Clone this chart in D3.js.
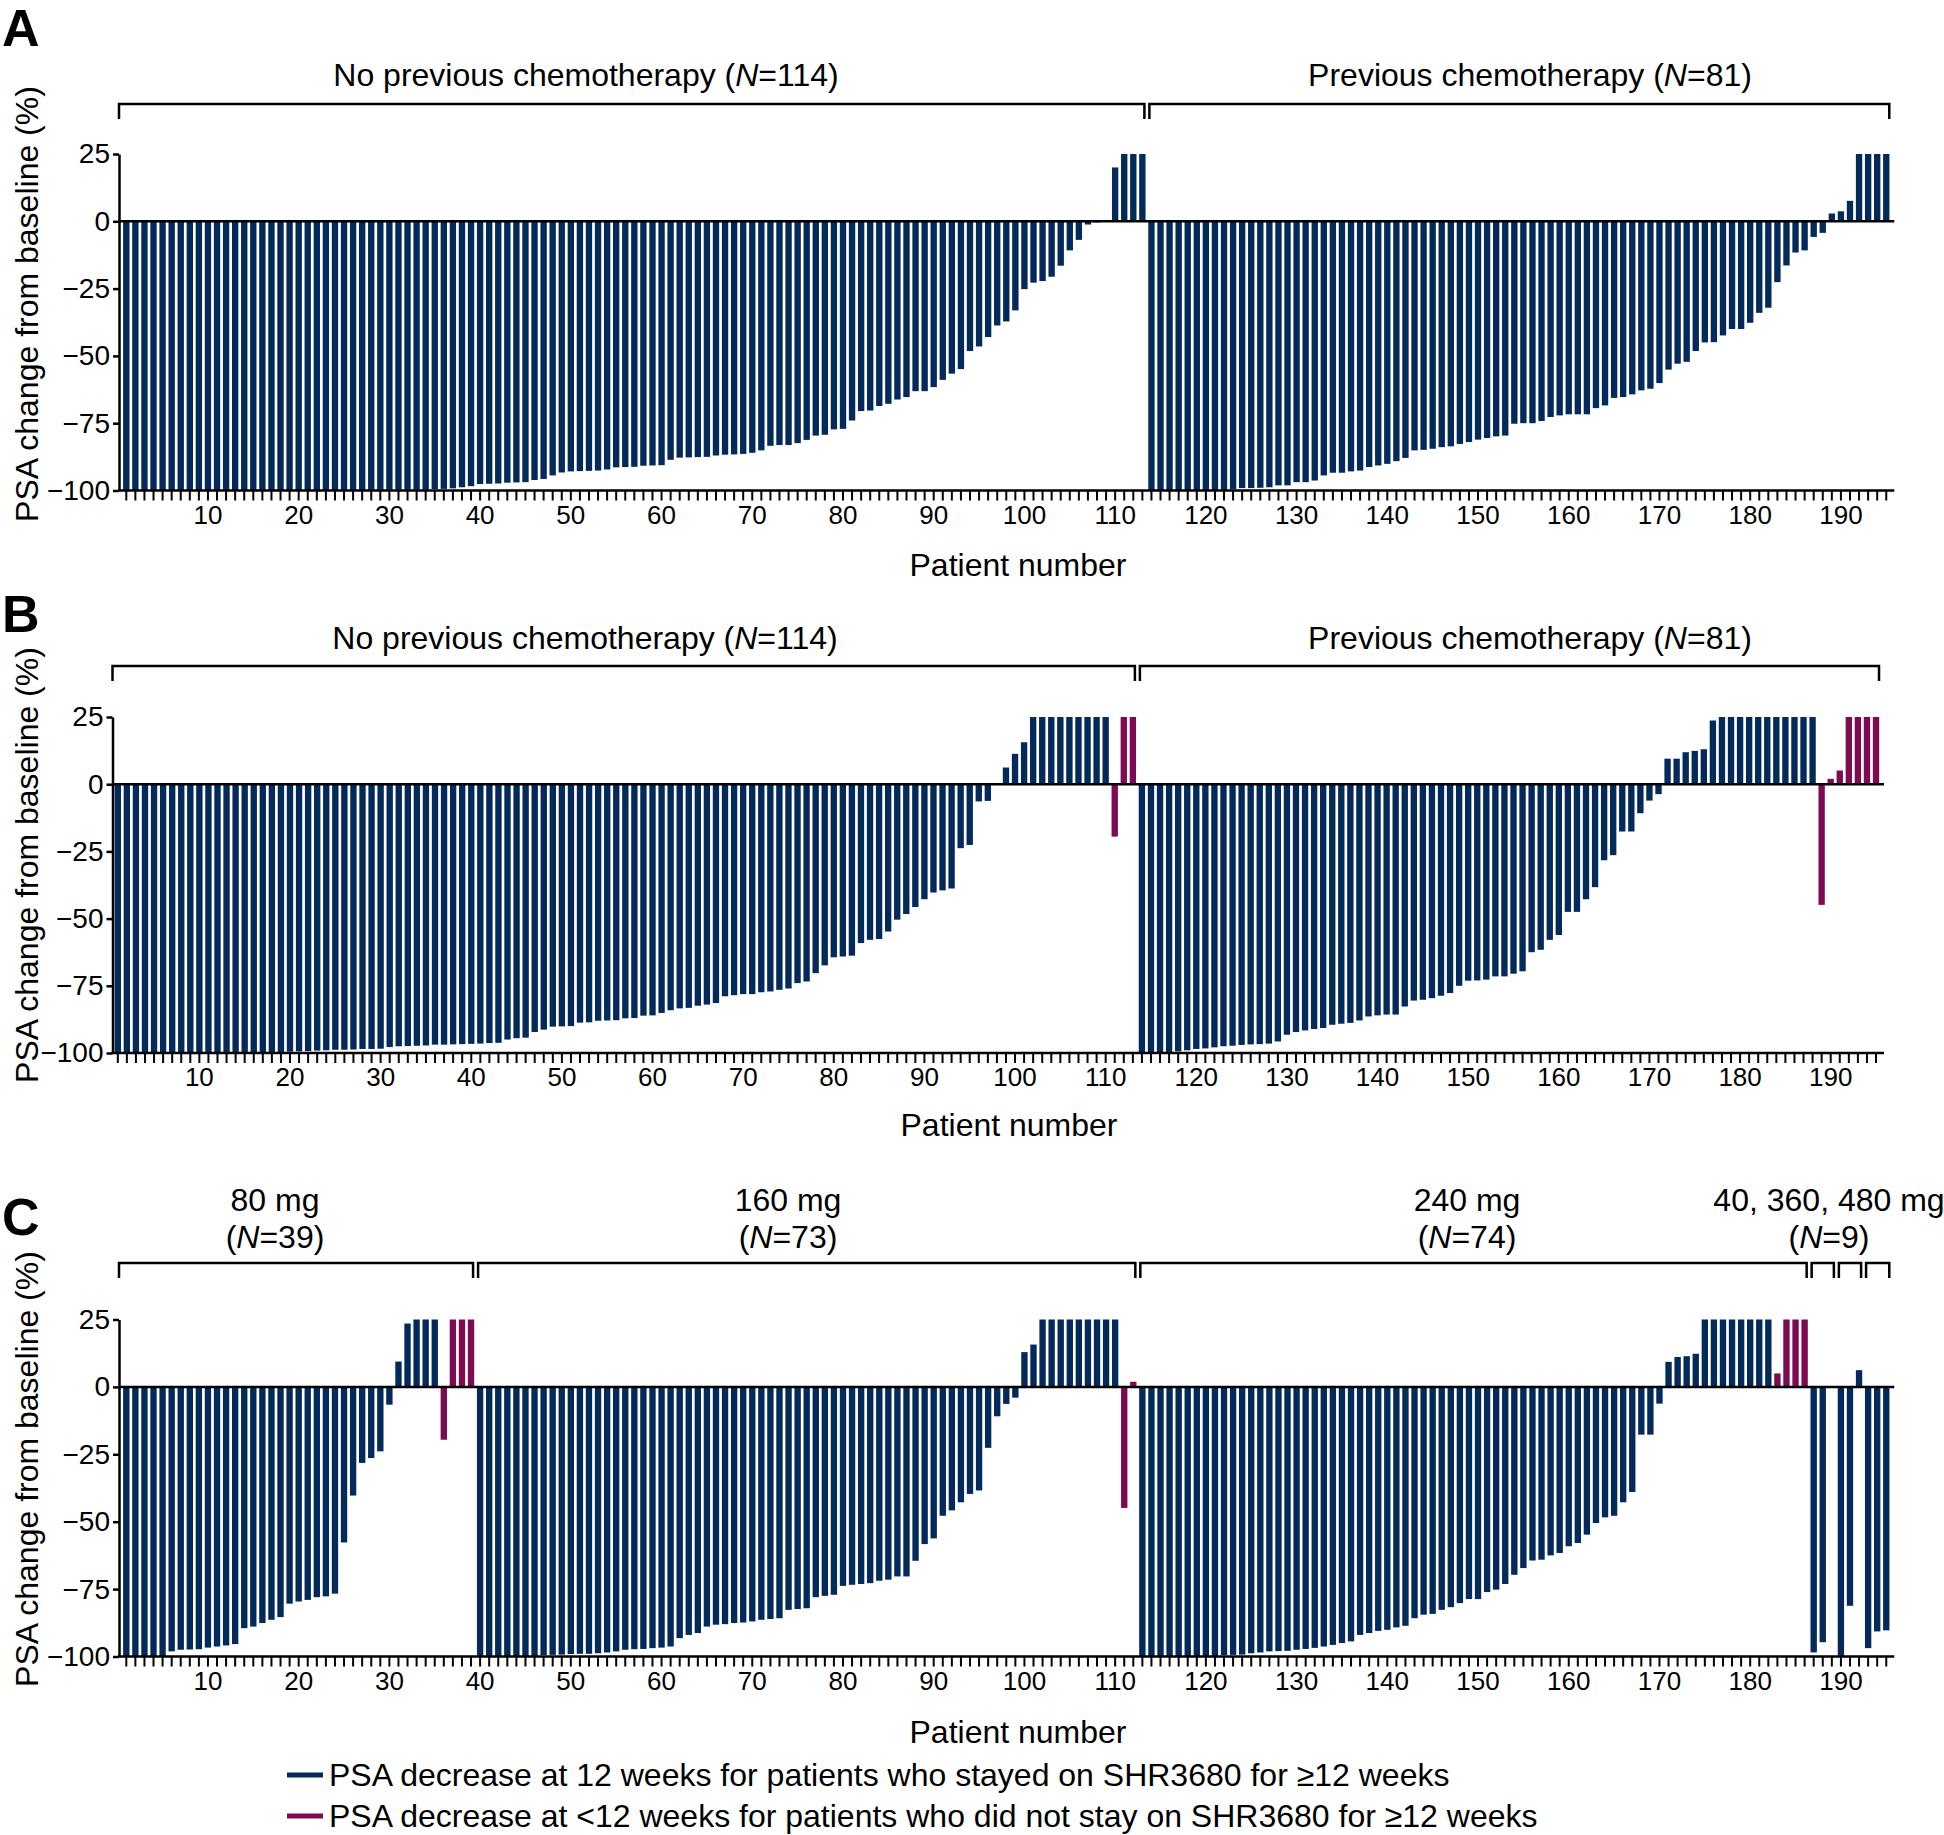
<!DOCTYPE html>
<html><head><meta charset="utf-8">
<script src="https://cdn.jsdelivr.net/npm/d3@7"></script>
<style>
body{margin:0;background:#fff;}
svg{display:block;font-family:"Liberation Sans",Arial,Helvetica,sans-serif;}
</style></head><body>
<svg id="chart" width="1944" height="1835"></svg>
<script>
// ---------- DATA ----------
const patients = d3.range(1, 196);
const xTickLabels = [10,20,30,40,50,60,70,80,90,100,110,120,130,140,150,160,170,180,190];
const yTicks = [25, 0, -25, -50, -75, -100];

const valuesA = [
-100,-100,-100,-100,-100,-100,-100,-100,-100,-100,
-100,-100,-100,-100,-100,-100,-100,-100,-100,-100,
-100,-100,-100,-100,-100,-100,-100,-99.7,-99.7,-99.7,
-99.7,-99.7,-99.7,-99.7,-99.5,-99.4,-99.2,-98.8,-98.4,-97.6,
-97.5,-97.4,-97.1,-97.0,-96.9,-96.1,-95.7,-94.4,-93.3,-92.9,
-92.8,-92.7,-92.6,-92.2,-91.4,-91.3,-91.2,-90.8,-90.7,-90.6,
-88.6,-87.8,-87.7,-87.6,-87.5,-87.0,-86.7,-86.6,-86.4,-86.0,
-85.1,-83.4,-83.1,-83.1,-82.4,-81.2,-79.6,-79.3,-77.3,-77.1,
-74.0,-70.5,-70.3,-68.6,-67.8,-66.2,-65.3,-63.1,-63.1,-61.6,
-58.9,-56.6,-54.9,-48.2,-46.5,-43.0,-38.7,-37.2,-33.1,-25.2,
-22.8,-22.2,-20.6,-16.5,-10.8,-6.9,-1.2,-0.4,0.5,20,
25,25,25,-100,-100,-100,-100,-100,-100,-100,
-100,-99.8,-99.5,-99.1,-99.1,-99.0,-98.8,-98.1,-98.1,-96.9,
-96.9,-96.3,-94.4,-93.4,-93.4,-92.9,-92.6,-91.3,-90.7,-90.1,
-89.1,-87.9,-85.1,-84.9,-84.5,-83.9,-83.6,-82.7,-82.0,-81.1,
-80.5,-79.9,-79.6,-75.2,-75.0,-75.0,-74.2,-72.7,-72.1,-71.7,
-71.7,-71.7,-69.4,-68.4,-65.6,-65.3,-64.3,-62.8,-62.2,-60.1,
-55.1,-52.9,-52.2,-48.2,-45.0,-44.9,-42.4,-40.0,-40.0,-37.7,
-34.0,-32.1,-22.6,-16.4,-11.6,-10.8,-5.8,-4.3,2.9,3.7,
7.6,25,25,25,25
];
const magentaA = [];

const valuesB = [
-100,-100,-100,-100,-100,-100,-100,-100,-100,-100,
-100,-100,-100,-100,-100,-100,-100,-100,-100,-99.5,
-99.4,-99.3,-99.1,-99.0,-98.8,-98.8,-98.7,-98.5,-98.5,-98.4,
-97.8,-97.5,-97.4,-97.3,-97.2,-96.9,-96.9,-96.8,-96.7,-96.6,
-96.5,-96.3,-96.2,-95.0,-94.5,-94.3,-92.2,-91.3,-90.2,-90.1,
-90.0,-88.7,-88.6,-88.0,-87.9,-87.8,-87.1,-87.0,-86.1,-86.0,
-85.1,-84.1,-83.4,-83.2,-82.4,-82.0,-81.4,-78.9,-78.5,-78.1,
-78.1,-77.4,-77.1,-76.5,-76.0,-74.0,-73.4,-70.3,-67.4,-64.4,
-64.1,-63.8,-59.1,-57.9,-57.6,-54.8,-50.4,-48.3,-45.7,-42.8,
-40.3,-39.5,-38.8,-23.8,-22.6,-6.4,-6.2,null,6.2,11.3,
15.6,25,25,25,25,25,25,25,25,25,
-19.5,25,25,-100,-100,-100,-100,-99.4,-99.0,-98.5,
-98.3,-97.9,-97.5,-97.3,-97.0,-96.8,-96.7,-96.5,-95.7,-93.2,
-92.2,-91.6,-91.1,-90.7,-89.5,-89.1,-88.8,-87.9,-86.4,-86.0,
-85.7,-85.7,-82.7,-80.5,-80.2,-79.6,-78.7,-77.7,-75.0,-73.1,
-73.0,-72.7,-71.5,-71.5,-70.5,-69.6,-62.5,-61.6,-57.9,-56.1,
-47.5,-47.5,-42.8,-38.3,-28.3,-26.4,-17.6,-17.6,-10.8,-6.1,
-3.7,9.5,9.5,11.9,12.4,13.0,23.7,25,25,25,
25,25,25,25,25,25,25,25,-44.9,2.0,
5.1,25,25,25,25
];
const magentaB = [111,112,113,189,190,191,192,193,194,195];

const valuesC = [
-100,-100,-100,-100,-100,-98.1,-97.5,-97.4,-97.3,-96.7,
-96.3,-95.9,-95.4,-89.5,-88.9,-87.6,-86.4,-85.4,-80.4,-79.6,
-79.0,-78.0,-77.7,-76.7,-57.7,-40.3,-28.2,-26.4,-23.9,-6.6,
9.4,23.5,25,25,25,-19.6,25,25,25,-100,
-100,-100,-100,-100,-100,-100,-99.5,-99.4,-99.3,-99.1,
-99.0,-99.0,-98.8,-98.5,-98.1,-97.5,-97.3,-97.2,-96.9,-96.7,
-96.3,-93.2,-92.0,-91.3,-88.9,-88.2,-88.0,-87.6,-87.4,-87.0,
-86.4,-86.1,-85.8,-82.7,-82.4,-82.1,-78.0,-77.5,-77.1,-73.8,
-73.4,-73.1,-72.8,-71.9,-71.5,-70.3,-70.3,-64.5,-58.3,-56.2,
-47.8,-45.8,-42.8,-39.7,-38.4,-22.6,-10.9,-6.3,-4.0,12.9,
15.7,25,25,25,25,25,25,25,25,25,
-44.9,1.9,-100,-100,-100,-100,-100,-100,-100,-100,
-99.8,-99.5,-99.4,-99.3,-98.8,-98.5,-98.1,-98.0,-97.9,-97.5,
-97.2,-96.8,-96.3,-95.7,-95.0,-94.4,-92.0,-91.3,-90.5,-90.1,
-89.2,-88.6,-85.8,-84.5,-84.2,-82.7,-81.7,-80.2,-78.7,-78.7,
-76.1,-75.2,-73.1,-69.7,-67.2,-64.4,-64.1,-62.5,-61.6,-59.1,
-57.9,-54.8,-50.5,-48.4,-47.8,-42.8,-39.0,-17.7,-17.7,-6.2,
9.3,11.1,11.4,12.3,25,25,25,25,25,25,
25,25,5.0,25,25,25,-98.5,-94.7,null,-100,
-81.2,6.2,-96.9,-90.7,-90.3
];
const magentaC = [36,37,38,39,111,112,183,184,185,186];

// group brackets (first/last patient of each bracket)
const bracketsA_first = [1, 114];
const bracketsA_last  = [113, 195];
const labelsA_name = ["No previous chemotherapy", "Previous chemotherapy"];
const labelsA_n    = [114, 81];

const bracketsB_first = [1, 114];
const bracketsB_last  = [113, 195];
const labelsB_name = ["No previous chemotherapy", "Previous chemotherapy"];
const labelsB_n    = [114, 81];

const bracketsC_first = [1, 40, 113, 187, 190, 193];
const bracketsC_last  = [39, 112, 186, 189, 192, 195];
const labelsC_name = ["80 mg", "160 mg", "240 mg", "40, 360, 480 mg"];
const labelsC_n    = [39, 73, 74, 9];

const legendLabels = [
  "PSA decrease at 12 weeks for patients who stayed on SHR3680 for \u226512 weeks",
  "PSA decrease at <12 weeks for patients who did not stay on SHR3680 for \u226512 weeks"
];

// ---------- STYLE / LAYOUT ----------
const NAVY = "#04295b", MAGENTA = "#7e0b52";
const FS = 32;
const svg = d3.select("#chart");

const panels = [
  {letter:"A", letterY:46, values:valuesA, magenta:magentaA,
   axisX:119, c1:126.3, step:9.072, yTop:154, yBot:490.5,
   bFirst:bracketsA_first, bLast:bracketsA_last, bracketY:104,
   labels:labelsA_name, ns:labelsA_n, labelX:[586,1530], twoLine:false, labelY:86,
   yLabelCY:304, pnX:1018, pnY:576},
  {letter:"B", letterY:632, values:valuesB, magenta:magentaB,
   axisX:112.5, c1:117.8, step:9.063, yTop:717, yBot:1053,
   bFirst:bracketsB_first, bLast:bracketsB_last, bracketY:666,
   labels:labelsB_name, ns:labelsB_n, labelX:[585,1530], twoLine:false, labelY:649,
   yLabelCY:865, pnX:1009, pnY:1136},
  {letter:"C", letterY:1235, values:valuesC, magenta:magentaC,
   axisX:119, c1:126.3, step:9.072, yTop:1319.5, yBot:1656.5,
   bFirst:bracketsC_first, bLast:bracketsC_last, bracketY:1263,
   labels:labelsC_name, ns:labelsC_n, labelX:[275,788,1467,1829], twoLine:true, labelY:1211,
   yLabelCY:1469, pnX:1018, pnY:1743}
];

function drawPanel(p){
  const g = svg.append("g");
  const rangeStart = p.c1 - p.step/2;
  const x = d3.scaleBand().domain(patients)
    .range([rangeStart, rangeStart + p.step*patients.length])
    .paddingInner(0.3).paddingOuter(0.15);
  const bw = x.bandwidth();
  const cx = d => x(d) + bw/2;
  const y = d3.scaleLinear().domain([-100, 25]).range([p.yBot, p.yTop]);
  const xEnd = cx(195) + 8;

  // bars
  const data = patients.map((d,i) => ({pt:d, v:p.values[i], m:p.magenta.includes(d)}))
    .filter(d => d.v !== null && d.v !== 0);
  g.append("g").selectAll("rect").data(data).join("rect")
    .attr("x", d => x(d.pt))
    .attr("width", bw)
    .attr("y", d => y(Math.max(0, d.v)))
    .attr("height", d => Math.abs(y(d.v) - y(0)))
    .attr("fill", d => d.m ? MAGENTA : NAVY);

  // zero line
  g.append("line").attr("x1", p.axisX).attr("x2", xEnd)
    .attr("y1", y(0)).attr("y2", y(0))
    .attr("stroke", "#000").attr("stroke-width", 2.5);

  // y axis
  const ya = g.append("g").attr("transform", `translate(${p.axisX},0)`)
    .call(d3.axisLeft(y).tickValues(yTicks).tickSize(6).tickSizeOuter(0).tickPadding(3));
  ya.select(".domain").attr("stroke-width", 2.5);
  ya.selectAll(".tick line").attr("stroke-width", 2.5);
  ya.selectAll(".tick text").attr("font-size", 28).attr("font-family", null).attr("fill", "#000");

  // x axis
  const xa = g.append("g").attr("transform", `translate(0,${p.yBot})`)
    .call(d3.axisBottom(x).tickValues(patients)
      .tickFormat(d => xTickLabels.includes(d) ? d : "")
      .tickSize(10).tickSizeOuter(0).tickPadding(5));
  xa.select(".domain").remove();
  xa.selectAll(".tick line").attr("stroke-width", 2);
  xa.selectAll(".tick text").attr("font-size", 26).attr("font-family", null).attr("fill", "#000");
  g.append("line").attr("x1", p.axisX - 1).attr("x2", xEnd)
    .attr("y1", p.yBot).attr("y2", p.yBot)
    .attr("stroke", "#000").attr("stroke-width", 2.5);

  // brackets
  const gap = 2.5;
  p.bFirst.forEach((f, i) => {
    const l = p.bLast[i];
    const x0 = f === 1 ? p.axisX : (cx(f-1) + cx(f))/2 + gap;
    const x1 = l === 195 ? cx(195) + 3 : (cx(l) + cx(l+1))/2 - gap;
    g.append("path")
      .attr("d", `M${x0},${p.bracketY+15}V${p.bracketY}H${x1}V${p.bracketY+15}`)
      .attr("fill", "none").attr("stroke", "#000").attr("stroke-width", 2.5);
  });

  // group labels
  p.labels.forEach((name, i) => {
    if (!p.twoLine) {
      const t = g.append("text").attr("x", p.labelX[i]).attr("y", p.labelY)
        .attr("text-anchor", "middle").attr("font-size", FS);
      t.append("tspan").text(name + " (");
      t.append("tspan").attr("font-style", "italic").text("N");
      t.append("tspan").text("=" + p.ns[i] + ")");
    } else {
      g.append("text").attr("x", p.labelX[i]).attr("y", p.labelY)
        .attr("text-anchor", "middle").attr("font-size", FS).text(name);
      const t = g.append("text").attr("x", p.labelX[i]).attr("y", p.labelY + 37)
        .attr("text-anchor", "middle").attr("font-size", FS);
      t.append("tspan").text("(");
      t.append("tspan").attr("font-style", "italic").text("N");
      t.append("tspan").text("=" + p.ns[i] + ")");
    }
  });

  // panel letter
  g.append("text").attr("x", 2).attr("y", p.letterY)
    .attr("font-size", 52).attr("font-weight", "bold").text(p.letter);

  // y axis title
  g.append("text").attr("transform", `translate(27,${p.yLabelCY}) rotate(-90)`)
    .attr("text-anchor", "middle").attr("dominant-baseline", "central")
    .attr("font-size", FS).text("PSA change from baseline (%)");

  // x axis title
  g.append("text").attr("x", p.pnX).attr("y", p.pnY)
    .attr("text-anchor", "middle").attr("font-size", FS).text("Patient number");
}

panels.forEach(drawPanel);

// legend
const legY = [1775, 1816];
const legColors = [NAVY, MAGENTA];
const lg = svg.append("g");
legendLabels.forEach((lab, i) => {
  lg.append("rect").attr("x", 287).attr("y", legY[i] - 2.5).attr("width", 36).attr("height", 5)
    .attr("fill", legColors[i]);
  lg.append("text").attr("x", 329).attr("y", legY[i]).attr("dy", "0.35em")
    .attr("font-size", FS).text(lab);
});
</script>
</body></html>
